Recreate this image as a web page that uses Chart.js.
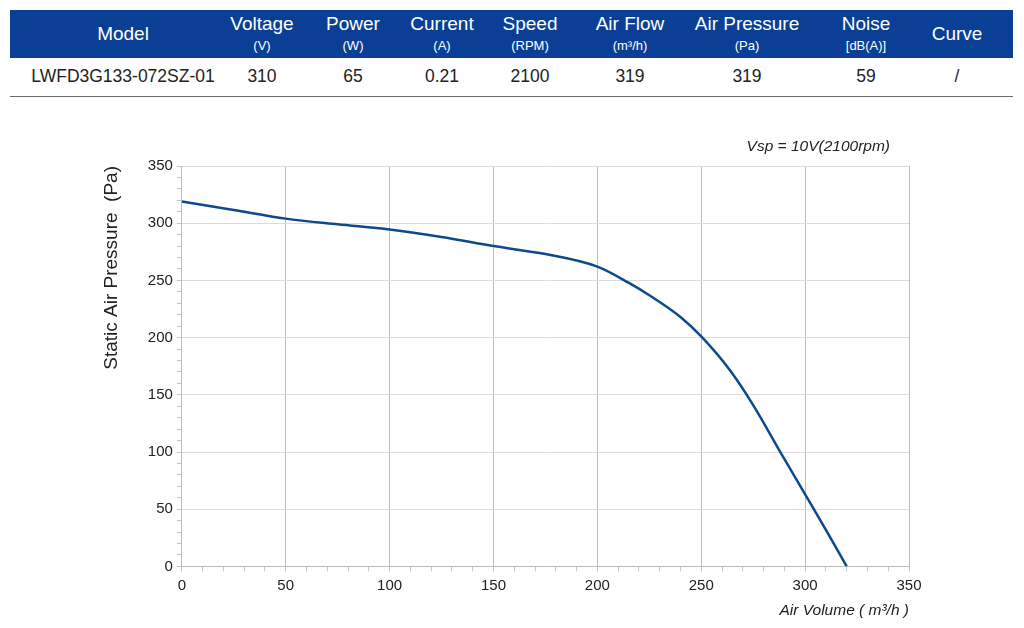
<!DOCTYPE html>
<html>
<head>
<meta charset="utf-8">
<script src="https://cdn.jsdelivr.net/npm/chart.js@4.4.1/dist/chart.umd.min.js"></script>
<style>
    body { margin: 0; background: #fff; font-family: "Liberation Sans", Arial, sans-serif; }
    #page { position: relative; width: 1024px; height: 628px; overflow: hidden; }
    #head { position: absolute; left: 10px; top: 10px; width: 1003px; height: 48px; background: #0a3f95; }
    #rowline { position: absolute; left: 10px; top: 96px; width: 1003px; height: 1px; background: #6b6b6b; }
    .cell { position: absolute; width: 220px; text-align: center; white-space: nowrap; }
    .h1 { color: #fff; font-size: 19px; }
    .h2 { color: #fff; font-size: 13px; }
    .v { color: #222; font-size: 17.5px; }
    #chartBox { position: absolute; left: 0; top: 100px; }
</style>
</head>
<body>
<div id="page">
    <div id="head"></div>
    <div id="cells"></div>
    <div id="rowline"></div>
    <div id="chartBox"><canvas id="fanChart" width="1024" height="528"></canvas></div>
</div>
<script>
// spec table
const columnNames = ['Model', 'Voltage', 'Power', 'Current', 'Speed', 'Air Flow', 'Air Pressure', 'Noise', 'Curve'];
const columnUnits = ['', '(V)', '(W)', '(A)', '(RPM)', '(m\u00b3/h)', '(Pa)', '[dB(A)]', ''];
const rowValues = ['LWFD3G133-072SZ-01', '310', '65', '0.21', '2100', '319', '319', '59', '/'];
const columnCenters = [123, 262, 353, 442, 530, 630, 747, 866, 957];

// curve
const airVolume = [0, 25, 50, 75, 100, 125, 150, 175, 200, 215, 225, 240, 250, 264, 275, 289, 300, 310, 320];
const staticPressure = [319, 311.5, 304, 299, 294.5, 288, 280, 273, 262, 248, 237, 218, 201, 171, 141, 97, 63, 32, 0];

const axisMax = 350;
const majorStep = 50;
const minorStep = 10;

const cells = document.getElementById('cells');
function addCell(text, cls, center, top) {
    const d = document.createElement('div');
    d.className = 'cell ' + cls;
    d.style.left = (center - 110) + 'px';
    d.style.top = top + 'px';
    d.textContent = text;
    cells.appendChild(d);
}
columnNames.forEach((name, i) => {
    if (columnUnits[i]) {
        addCell(name, 'h1', columnCenters[i], 13);
        addCell(columnUnits[i], 'h2', columnCenters[i], 38);
    } else {
        addCell(name, 'h1', columnCenters[i], 23);
    }
    addCell(rowValues[i], 'v', columnCenters[i], 66);
});

const FONT = "'Liberation Sans', Arial, sans-serif";

const vspLabel = {
    id: 'vspLabel',
    afterDraw(chart) {
        const { ctx, chartArea } = chart;
        ctx.save();
        ctx.font = 'italic 15.5px ' + FONT;
        ctx.fillStyle = '#222';
        ctx.textAlign = 'right';
        ctx.textBaseline = 'middle';
        ctx.fillText('Vsp = 10V(2100rpm)', chartArea.right - 19, chartArea.top - 19);
        ctx.restore();
    }
};

const isMajor = v => v % majorStep === 0;

new Chart(document.getElementById('fanChart').getContext('2d'), {
    type: 'line',
    data: {
        datasets: [{
            data: airVolume.map((x, i) => ({ x: x, y: staticPressure[i] })),
            borderColor: '#0d4a8c',
            borderWidth: 2.5,
            pointRadius: 0,
            cubicInterpolationMode: 'monotone',
            fill: false
        }]
    },
    options: {
        responsive: false,
        animation: false,
        layout: { padding: { left: 100, right: 115, top: 66, bottom: 8 } },
        scales: {
            x: {
                type: 'linear',
                min: 0,
                max: axisMax,
                border: { color: '#bdbdbd' },
                grid: {
                    color: ctx => isMajor(ctx.tick.value) ? '#bcbcbc' : 'rgba(0,0,0,0)',
                    tickColor: '#c4c4c4',
                    tickLength: 5
                },
                ticks: {
                    stepSize: minorStep,
                    autoSkip: false,
                    maxRotation: 0,
                    padding: 5,
                    color: '#222',
                    font: { family: FONT, size: 15 },
                    callback: v => isMajor(v) ? v : ''
                },
                title: {
                    display: true,
                    align: 'end',
                    text: 'Air Volume ( m\u00b3/h )',
                    color: '#222',
                    padding: { top: 2, bottom: 0 },
                    font: { family: FONT, size: 15.5, style: 'italic' }
                }
            },
            y: {
                min: 0,
                max: axisMax,
                border: { color: '#bdbdbd' },
                grid: {
                    color: ctx => isMajor(ctx.tick.value) ? '#dcdcdc' : 'rgba(0,0,0,0)',
                    tickColor: '#c4c4c4',
                    tickLength: 5
                },
                ticks: {
                    stepSize: minorStep,
                    autoSkip: false,
                    padding: 4,
                    color: '#222',
                    font: { family: FONT, size: 15 },
                    callback: v => isMajor(v) ? v : ''
                },
                title: {
                    display: true,
                    align: 'end',
                    text: 'Static Air Pressure  (Pa)',
                    color: '#222',
                    padding: { top: 0, bottom: 21 },
                    font: { family: FONT, size: 19 }
                }
            }
        },
        plugins: {
            legend: { display: false },
            tooltip: { enabled: false }
        }
    },
    plugins: [vspLabel]
});
</script>
</body>
</html>
